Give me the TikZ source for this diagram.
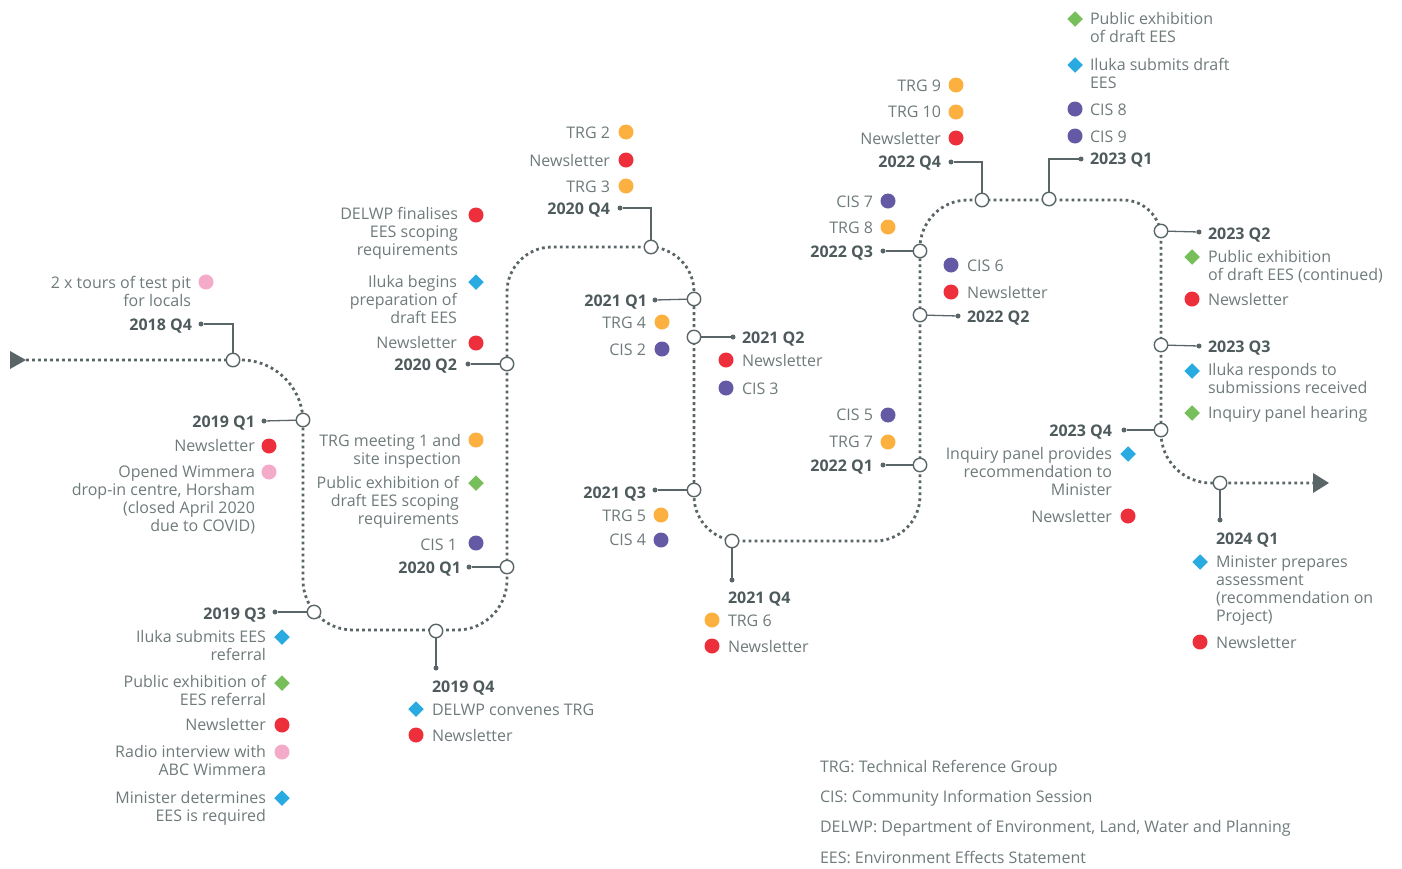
\documentclass[tikz,border=0pt]{standalone}
\usepackage{fontspec}
\setmainfont{Open Sans}
\usetikzlibrary{shapes.geometric}
\definecolor{trk}{HTML}{5A6567}
\definecolor{txt}{HTML}{6F7A7B}
\definecolor{yrc}{HTML}{4E5A5C}
\definecolor{cOr}{HTML}{FBB040}
\definecolor{cRd}{HTML}{EC2F3B}
\definecolor{cPk}{HTML}{F4ABC9}
\definecolor{cPu}{HTML}{6459A5}
\definecolor{cBl}{HTML}{29ABE2}
\definecolor{cGn}{HTML}{76BF5B}

\begin{document}
\begin{tikzpicture}[x=1pt, y=-1pt,
  every node/.style={inner sep=0pt, outer sep=0pt},
  font=\fontsize{16}{18}\selectfont,
  track/.style={draw=trk, line width=2.8pt, dash pattern=on 2.8pt off 3.2pt},
  qtr/.style={circle, draw=trk, fill=white, line width=1.4pt, minimum size=13.5pt},
  pin/.style={circle, fill=trk, minimum size=5pt},
  lead/.style={draw=trk, line width=1.3pt},
  yl/.style={font=\fontsize{16}{18}\selectfont\bfseries, text=yrc, anchor=north east, yshift=-1pt},
  yr/.style={font=\fontsize{16}{18}\selectfont\bfseries, text=yrc, anchor=north west, yshift=-1pt},
  lt/.style={text=txt, align=right, anchor=north east, yshift=-1pt},
  rt/.style={text=txt, align=left, anchor=north west, yshift=-1pt},
  dot/.style={circle, minimum size=15pt, fill=#1},
  dia/.style={diamond, minimum size=15.5pt, fill=#1}]
\useasboundingbox (0,0) rectangle (1402,868);

% the track
\coordinate (S) at (26,360);
\coordinate (K1) at (303,360);
\coordinate (K2) at (303,630);
\coordinate (K3) at (507,630);
\coordinate (K4) at (507,247);
\coordinate (K5) at (694,247);
\coordinate (K6) at (694,541);
\coordinate (K7) at (920,541);
\coordinate (K8) at (920,200);
\coordinate (K9) at (1161,200);
\coordinate (K10) at (1161,483);
\coordinate (E) at (1313,483);
\draw[track] (S) [rounded corners=62pt] -- (K1) [rounded corners=50pt] -- (K2) -- (K3) [rounded corners=45pt] -- (K4) -- (K5) -- (K6) -- (K7) [rounded corners=48pt] -- (K8) [rounded corners=38pt] -- (K9) [rounded corners=50pt] -- (K10) [sharp corners] -- (E);
\fill[trk] (10,351) -- (26,360) -- (10,369) -- cycle;
\fill[trk] (1313,473) -- (1329,483) -- (1313,493) -- cycle;

% 2018 Q4
\node[qtr] (Q184) at (233,360) {};
\node[pin] (P184) at (201,324) {};
\node[yl] (Y184) at (192,317.5) {2018 Q4};
\node[lt] (E184a) at (191,275.5) {2 x tours of test pit\\for locals};
\node[dot=cPk] (M184a) at (206,282) {};
\draw[lead] (P184) -| (Q184);

% 2019 Q1
\node[qtr] (Q191) at (303,420) {};
\node[pin] (P191) at (264,421) {};
\node[yl] (Y191) at (255,414.5) {2019 Q1};
\node[lt] (E191a) at (255,438.5) {Newsletter};
\node[dot=cRd] (M191a) at (269,446) {};
\node[lt] (E191b) at (255,464.5) {Opened Wimmera\\drop-in centre, Horsham\\(closed April 2020\\due to COVID)};
\node[dot=cPk] (M191b) at (269,472) {};
\draw[lead] (P191) -- (Q191);

% 2019 Q3
\node[qtr] (Q193) at (314,612) {};
\node[pin] (P193) at (275,612) {};
\node[yl] (Y193) at (266,606.5) {2019 Q3};
\node[lt] (E193a) at (266,629.5) {Iluka submits EES\\referral};
\node[dia=cBl] (M193a) at (282,637) {};
\node[lt] (E193b) at (266,674.5) {Public exhibition of\\EES referral};
\node[dia=cGn] (M193b) at (282,683) {};
\node[lt] (E193c) at (266,717.5) {Newsletter};
\node[dot=cRd] (M193c) at (282,725) {};
\node[lt] (E193d) at (266,744.5) {Radio interview with\\ABC Wimmera};
\node[dot=cPk] (M193d) at (282,752) {};
\node[lt] (E193e) at (266,790.5) {Minister determines\\EES is required};
\node[dia=cBl] (M193e) at (282,798) {};
\draw[lead] (P193) -- (Q193);

% 2019 Q4
\node[qtr] (Q194) at (436,631) {};
\node[pin] (P194) at (436,668) {};
\node[yr] (Y194) at (432,679.5) {2019 Q4};
\node[dia=cBl] (M194a) at (416,709) {};
\node[rt] (E194a) at (432,702.5) {DELWP convenes TRG};
\node[dot=cRd] (M194b) at (416,735) {};
\node[rt] (E194b) at (432,728.5) {Newsletter};
\draw[lead] (Q194) -- (P194);

% 2020 Q1
\node[qtr] (Q201) at (507,567) {};
\node[pin] (P201) at (469,567) {};
\node[yl] (Y201) at (461,561) {2020 Q1};
\node[lt] (E201a) at (457,537.5) {CIS 1};
\node[dot=cPu] (M201a) at (476,543) {};
\node[lt] (E201b) at (459,475.5) {Public exhibition of\\draft EES scoping\\requirements};
\node[dia=cGn] (M201b) at (476,483) {};
\node[lt] (E201c) at (461,433.5) {TRG meeting 1 and\\site inspection};
\node[dot=cOr] (M201c) at (476,440) {};
\draw[lead] (P201) -- (Q201);

% 2020 Q2
\node[qtr] (Q202) at (507,364) {};
\node[pin] (P202) at (468,364) {};
\node[yl] (Y202) at (457,357.5) {2020 Q2};
\node[lt] (E202a) at (457,335.5) {Newsletter};
\node[dot=cRd] (M202a) at (476,343) {};
\node[lt] (E202b) at (457,274.5) {Iluka begins\\preparation of\\draft EES};
\node[dia=cBl] (M202b) at (476,282) {};
\node[lt] (E202c) at (458,206.5) {DELWP finalises\\EES scoping\\requirements};
\node[dot=cRd] (M202c) at (476,215) {};
\draw[lead] (P202) -- (Q202);

% 2020 Q4
\node[qtr] (Q204) at (651,247) {};
\node[pin] (P204) at (620,208) {};
\node[yl] (Y204) at (610,201.5) {2020 Q4};
\node[lt] (E204a) at (610,179.5) {TRG 3};
\node[dot=cOr] (M204a) at (626,186) {};
\node[lt] (E204b) at (610,153.5) {Newsletter};
\node[dot=cRd] (M204b) at (626,160) {};
\node[lt] (E204c) at (610,125.5) {TRG 2};
\node[dot=cOr] (M204c) at (626,132) {};
\draw[lead] (P204) -| (Q204);

% 2021 Q1
\node[qtr] (Q211) at (694,299) {};
\node[pin] (P211) at (655,300) {};
\node[yl] (Y211) at (647,293.5) {2021 Q1};
\node[lt] (E211a) at (646,315.5) {TRG 4};
\node[dot=cOr] (M211a) at (662,322) {};
\node[lt] (E211b) at (646,342.5) {CIS 2};
\node[dot=cPu] (M211b) at (662,349) {};
\draw[lead] (P211) -- (Q211);

% 2021 Q2
\node[qtr] (Q212) at (694,337) {};
\node[pin] (P212) at (733,337) {};
\node[yr] (Y212) at (742,330.5) {2021 Q2};
\node[dot=cRd] (M212a) at (726,360) {};
\node[rt] (E212a) at (742,353.5) {Newsletter};
\node[dot=cPu] (M212b) at (726,388) {};
\node[rt] (E212b) at (742,381.5) {CIS 3};
\draw[lead] (Q212) -- (P212);

% 2021 Q3
\node[qtr] (Q213) at (694,490) {};
\node[pin] (P213) at (655,490) {};
\node[yl] (Y213) at (646,485.5) {2021 Q3};
\node[lt] (E213a) at (646,508.5) {TRG 5};
\node[dot=cOr] (M213a) at (661,515) {};
\node[lt] (E213b) at (646,532.5) {CIS 4};
\node[dot=cPu] (M213b) at (661,540) {};
\draw[lead] (P213) -- (Q213);

% 2021 Q4
\node[qtr] (Q214) at (732,541) {};
\node[pin] (P214) at (732,580) {};
\node[yr] (Y214) at (728,590.5) {2021 Q4};
\node[dot=cOr] (M214a) at (712,620) {};
\node[rt] (E214a) at (728,613.5) {TRG 6};
\node[dot=cRd] (M214b) at (712,646) {};
\node[rt] (E214b) at (728,639.5) {Newsletter};
\draw[lead] (Q214) -- (P214);

% 2022 Q1
\node[qtr] (Q221) at (920,465) {};
\node[pin] (P221) at (883,465) {};
\node[yl] (Y221) at (873,458.5) {2022 Q1};
\node[lt] (E221a) at (873,434.5) {TRG 7};
\node[dot=cOr] (M221a) at (888,442) {};
\node[lt] (E221b) at (873,407.5) {CIS 5};
\node[dot=cPu] (M221b) at (888,415) {};
\draw[lead] (P221) -- (Q221);

% 2022 Q2
\node[qtr] (Q222) at (920,315) {};
\node[pin] (P222) at (958,316) {};
\node[yr] (Y222) at (967,309.5) {2022 Q2};
\node[dot=cPu] (M222a) at (951,265) {};
\node[rt] (E222a) at (967,258.5) {CIS 6};
\node[dot=cRd] (M222b) at (951,292) {};
\node[rt] (E222b) at (967,285.5) {Newsletter};
\draw[lead] (Q222) -- (P222);

% 2022 Q3
\node[qtr] (Q223) at (920,251) {};
\node[pin] (P223) at (883,251) {};
\node[yl] (Y223) at (873,244.5) {2022 Q3};
\node[lt] (E223a) at (873,220.5) {TRG 8};
\node[dot=cOr] (M223a) at (888,227) {};
\node[lt] (E223b) at (873,194.5) {CIS 7};
\node[dot=cPu] (M223b) at (888,201) {};
\draw[lead] (P223) -- (Q223);

% 2022 Q4
\node[qtr] (Q224) at (982,200) {};
\node[pin] (P224) at (951,162) {};
\node[yl] (Y224) at (941,154.5) {2022 Q4};
\node[lt] (E224a) at (941,131.5) {Newsletter};
\node[dot=cRd] (M224a) at (956,138) {};
\node[lt] (E224b) at (941,104.5) {TRG 10};
\node[dot=cOr] (M224b) at (956,112) {};
\node[lt] (E224c) at (941,78.5) {TRG 9};
\node[dot=cOr] (M224c) at (956,85) {};
\draw[lead] (P224) -| (Q224);

% 2023 Q1
\node[qtr] (Q231) at (1049,199) {};
\node[pin] (P231) at (1081,159) {};
\node[yr] (Y231) at (1090,151.5) {2023 Q1};
\node[dot=cPu] (M231a) at (1075,136) {};
\node[rt] (E231a) at (1090,129.5) {CIS 9};
\node[dot=cPu] (M231b) at (1075,109) {};
\node[rt] (E231b) at (1090,102.5) {CIS 8};
\node[dia=cBl] (M231c) at (1075,65) {};
\node[rt] (E231c) at (1090,57.5) {Iluka submits draft\\EES};
\node[dia=cGn] (M231d) at (1075,19) {};
\node[rt] (E231d) at (1090,11.5) {Public exhibition\\of draft EES};
\draw[lead] (P231) -| (Q231);

% 2023 Q2
\node[qtr] (Q232) at (1161,231) {};
\node[pin] (P232) at (1199,232) {};
\node[yr] (Y232) at (1208,226.5) {2023 Q2};
\node[dia=cGn] (M232a) at (1192,257) {};
\node[rt] (E232a) at (1208,249.5) {Public exhibition\\of draft EES (continued)};
\node[dot=cRd] (M232b) at (1192,299) {};
\node[rt] (E232b) at (1208,292.5) {Newsletter};
\draw[lead] (Q232) -- (P232);

% 2023 Q3
\node[qtr] (Q233) at (1161,345) {};
\node[pin] (P233) at (1199,346) {};
\node[yr] (Y233) at (1208,339.5) {2023 Q3};
\node[dia=cBl] (M233a) at (1192,371) {};
\node[rt] (E233a) at (1208,362.5) {Iluka responds to\\submissions received};
\node[dia=cGn] (M233b) at (1192,413) {};
\node[rt] (E233b) at (1208,405.5) {Inquiry panel hearing};
\draw[lead] (Q233) -- (P233);

% 2023 Q4
\node[qtr] (Q234) at (1161,430) {};
\node[pin] (P234) at (1124,430) {};
\node[yl] (Y234) at (1112,423.5) {2023 Q4};
\node[lt] (E234a) at (1112,446.5) {Inquiry panel provides\\recommendation to\\Minister};
\node[dia=cBl] (M234a) at (1128,454) {};
\node[lt] (E234b) at (1112,509.5) {Newsletter};
\node[dot=cRd] (M234b) at (1128,516) {};
\draw[lead] (P234) -- (Q234);

% 2024 Q1
\node[qtr] (Q241) at (1220,483) {};
\node[pin] (P241) at (1220,520) {};
\node[yr] (Y241) at (1216,531.5) {2024 Q1};
\node[dia=cBl] (M241a) at (1200,562) {};
\node[rt] (E241a) at (1216,554.5) {Minister prepares\\assessment\\(recommendation on\\Project)};
\node[dot=cRd] (M241b) at (1200,642) {};
\node[rt] (E241b) at (1216,635.5) {Newsletter};
\draw[lead] (Q241) -- (P241);

% key
\node[rt] (K1txt) at (820,759.5) {TRG: Technical Reference Group};
\node[rt] (K2txt) at (820,789.5) {CIS: Community Information Session};
\node[rt] (K3txt) at (820,819.5) {DELWP: Department of Environment, Land, Water and Planning};
\node[rt] (K4txt) at (820,850.5) {EES: Environment Effects Statement};
\end{tikzpicture}
\end{document}
